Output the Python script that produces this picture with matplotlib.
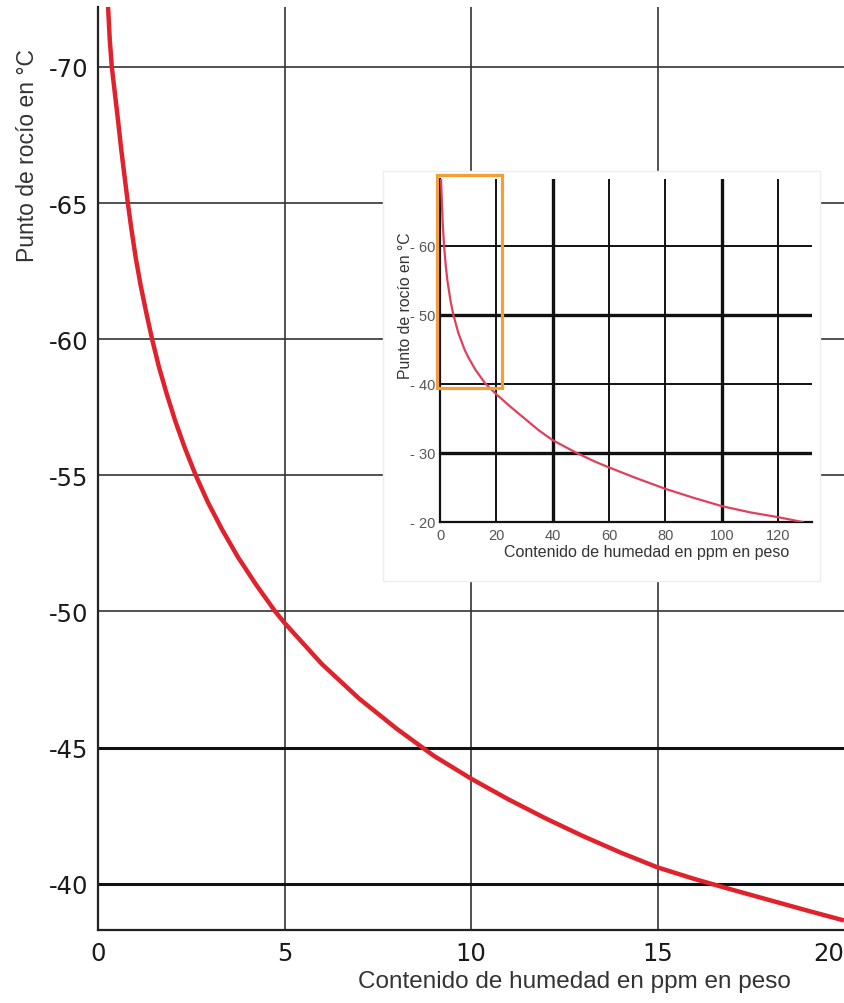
import matplotlib
matplotlib.use("Agg")
import matplotlib.pyplot as plt
from matplotlib.patches import Rectangle

plt.rcParams["axes.unicode_minus"] = False

# main chart: dew point vs moisture (0-20 ppm)
ppm = [0.27, 0.315, 0.37, 0.455, 0.54, 0.62, 0.71, 0.80, 0.90, 1.01, 1.14,
       1.29, 1.45, 1.63, 1.84, 2.07, 2.33, 2.62, 2.95, 3.33, 3.75, 4.23,
       4.75, 5.0, 6.0, 7.0, 8.0, 8.7, 9.0, 10.0, 11.0, 12.0, 13.0, 14.0,
       15.0, 16.0, 17.0, 18.0, 19.0, 20.0]
dew = [-72.2, -71, -70, -69, -68, -67, -66, -65, -64, -63, -62,
       -61, -60, -59, -58, -57, -56, -55, -54, -53, -52, -51,
       -50, -49.58, -48.07, -46.8, -45.7, -45.0, -44.7, -43.86, -43.1, -42.4,
       -41.75, -41.15, -40.6, -40.17, -39.78, -39.4, -39.02, -38.65]
x_ticks = [0, 5, 10, 15, 20]
y_ticks = [-70, -65, -60, -55, -50, -45, -40]
y_bold = [-45, -40]

# inset chart: dew point vs moisture (0-130 ppm)
ppm_in = [0.35, 0.7, 1.0, 1.45, 2.07, 2.62, 3.75, 4.75, 6.5, 8.7, 10.0,
          12.5, 16.0, 20.0, 25.0, 30.0, 35.0, 40.0, 48.5, 55.0, 60.0,
          70.0, 80.0, 90.0, 100.0, 110.0, 120.0, 128.6]
dew_in = [-69.7, -66, -63, -60, -57, -55, -52, -50, -47.4, -45, -43.9,
          -42.1, -40.1, -38.5, -36.7, -35.0, -33.3, -31.85, -30, -28.75,
          -27.9, -26.3, -24.8, -23.5, -22.3, -21.4, -20.7, -20]
x_ticks_in = [0, 20, 40, 60, 80, 100, 120]
y_ticks_in = [-60, -50, -40, -30, -20]
y_labels_in = ["- 60", "- 50", "- 40", "- 30", "- 20"]
x_bold_in = [40, 100]
y_bold_in = [-50, -30]

xlabel = "Contenido de humedad en ppm en peso"
ylabel = "Punto de rocío en °C"

fig = plt.figure(figsize=(8.44, 10.04), dpi=100)

# ---- main axes ----
ax = fig.add_axes([98 / 844, 1 - 931 / 1004, 746 / 844, 923 / 1004])
ax.set_xlim(0, 20.0)
ax.set_ylim(-38.3, -72.2)
for s in ["top", "right"]:
    ax.spines[s].set_visible(False)
for s in ["left", "bottom"]:
    ax.spines[s].set_linewidth(1.6)
    ax.spines[s].set_color("#222222")

for x in x_ticks[1:-1]:
    ax.axvline(x, color="#333333", lw=1.2, zorder=1)
for y in y_ticks:
    ax.axhline(y, color="#111111" if y in y_bold else "#333333",
               lw=2.2 if y in y_bold else 1.2, zorder=1)

ax.plot(ppm, dew, color="#e0222c", lw=3.2, zorder=3,
        solid_joinstyle="round", solid_capstyle="butt")

ax.set_xticks(x_ticks)
ax.set_yticks(y_ticks)
ax.tick_params(length=0, labelsize=17.5, labelcolor="#1a1a1a")
ax.tick_params(axis="y", pad=7)
ax.tick_params(axis="x", pad=8)
for lab in ax.get_xticklabels() + ax.get_yticklabels():
    lab.set_family("DejaVu Sans")
ax.get_xticklabels()[-1].set_ha("right")

ax.set_xlabel(xlabel, fontsize=17.5, family="Liberation Sans", color="#333333",
              va="center")
ax.xaxis.set_label_coords(0.638, -0.055)
ax.set_ylabel(ylabel, fontsize=16.5, family="Liberation Sans", color="#333333",
              va="center")
ax.yaxis.set_label_coords(-0.095, 0.84)

# white backdrop for the inset
ax.add_patch(Rectangle((383 / 844, 1 - 582 / 1004), 437 / 844, 410 / 1004,
                       transform=fig.transFigure, facecolor="white",
                       edgecolor="#eeeeee", lw=1, zorder=5, clip_on=False))

# ---- inset axes ----
ins = fig.add_axes([440 / 844, 1 - 523 / 1004, 372 / 844, 343 / 1004])
ins.set_facecolor("white")
ins.set_xlim(0, 132)
ins.set_ylim(-20, -69.7)
for s in ["top", "right"]:
    ins.spines[s].set_visible(False)
for s in ["left", "bottom"]:
    ins.spines[s].set_linewidth(1.6)
    ins.spines[s].set_color("#111111")

for x in x_ticks_in[1:]:
    ins.axvline(x, color="#111111", lw=2.4 if x in x_bold_in else 1.4, zorder=1)
for y in y_ticks_in[:-1]:
    ins.axhline(y, color="#111111", lw=2.4 if y in y_bold_in else 1.4, zorder=1)

ins.plot(ppm_in, dew_in, color="#e0405c", lw=1.6, zorder=3,
         solid_joinstyle="round")

ins.add_patch(Rectangle((-1.07, -39.4), 23.1, -30.9, fill=False,
                        edgecolor="#f2a035", lw=2.3, zorder=4, clip_on=False))

ins.set_xticks(x_ticks_in)
ins.set_yticks(y_ticks_in)
ins.set_yticklabels(y_labels_in)
ins.tick_params(length=0, labelsize=10.5, labelcolor="#555555")
ins.tick_params(axis="y", pad=3)
ins.tick_params(axis="x", pad=4)
for lab in ins.get_xticklabels() + ins.get_yticklabels():
    lab.set_family("Liberation Sans")

ins.set_xlabel(xlabel, fontsize=11.5, family="Liberation Sans",
               color="#333333", va="center")
ins.xaxis.set_label_coords(0.556, -0.087)
ins.set_ylabel(ylabel, fontsize=11.3, family="Liberation Sans",
               color="#333333", va="center")
ins.yaxis.set_label_coords(-0.093, 0.633)

fig.savefig("out.png", dpi=100, facecolor="white")
